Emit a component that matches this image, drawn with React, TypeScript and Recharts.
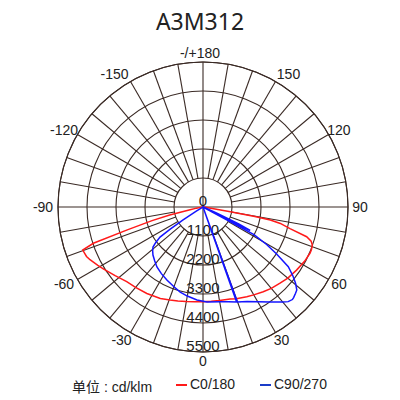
import React from 'react';
import { RadarChart, Radar, PolarGrid, PolarAngleAxis, PolarRadiusAxis } from 'recharts';

// C0/180 plane, gamma angle (deg) and intensity (cd/klm)
const c0Angles = [-180, -150, -120, -90, -85, -80, -78, -76.5, -75, -73.2, -71.7, -70.3, -67, -65, -61, -58, -52, -45.6, -40, -33, -25, -19.5, -15, -10, -5, 0, 5, 10, 16.4, 20, 26, 30, 35.4, 40, 45.3, 50, 56, 62, 66.6, 68.5, 70.8, 72.5, 74, 76, 78, 79, 79.5, 80, 81, 85, 90, 120, 150, 180];
const c0Values = [0, 0, 0, 0, 60, 250, 500, 1300, 2000, 3000, 4380, 4846, 4800, 4730, 4560, 4440, 4230, 4050, 3980, 3910, 3830, 3745, 3690, 3640, 3610, 3590, 3590, 3600, 3637, 3700, 3785, 3850, 3944, 4030, 4110, 4200, 4280, 4370, 4420, 4420, 4390, 4300, 4090, 3400, 3000, 2600, 2000, 1000, 300, 100, 0, 0, 0, 0];

// C90/270 plane
const c90Angles = [-180, -150, -120, -90, -70, -60, -58, -57, -56, -55, -53, -51.3, -49, -46.2, -42, -37.5, -32, -26.3, -20, -15, -10, -3.7, 2.4, 10, 15, 19.5, 19.7, 19.9, 25, 30, 35, 40, 42, 44, 45, 47, 48.5, 50.5, 52.5, 55, 57.5, 59.5, 61.5, 62, 63.5, 64.5, 66, 70, 80, 90, 120, 150, 180];
const c90Values = [0, 0, 0, 0, 0, 60, 300, 900, 1500, 1990, 2250, 2430, 2530, 2630, 2740, 2870, 2980, 3090, 3220, 3340, 3430, 3535, 3605, 3650, 3720, 3820, 0, 3830, 3960, 4150, 4400, 4700, 4830, 4880, 4860, 4800, 4750, 4550, 4300, 3950, 3300, 2800, 2200, 0, 2000, 1500, 600, 100, 0, 0, 0, 0, 0];

const angleTicks = [-150, -120, -90, -60, -30, 0, 30, 60, 90, 120, 150, 180];
const radiusTicks = [0, 1100, 2200, 3300, 4400, 5500];
const gridGammas = [-170, -160, -150, -140, -130, -120, -110, -100, -80, -70, -60, -50, -40, -30, -20, -10, 10, 20, 30, 40, 50, 60, 70, 80, 100, 110, 120, 130, 140, 150, 160, 170];

const c0Data = c0Angles.map((a, i) => ({ angle: a, value: c0Values[i] }));
const c90Data = c90Angles.map((a, i) => ({ angle: a, value: c90Values[i] }));

const CX = 203;
const CY = 207;
const R = 145;
const MAX = 5500;
const GRID = '#3a2a25';
const FONT = '"Liberation Sans", Arial, sans-serif';

const chartProps = {
  width: 400,
  height: 400,
  cx: CX,
  cy: CY,
  outerRadius: R,
  startAngle: -270,
  endAngle: 90,
  margin: { top: 0, right: 0, bottom: 0, left: 0 },
};

const layer: React.CSSProperties = { position: 'absolute', left: 0, top: 0 };

const AngleTick = (props: any) => {
  const { payload } = props;
  const v = payload.value;
  const a = (payload.coordinate * Math.PI) / 180;
  const side = v < 0 ? -1 : 1;
  const extra = Math.abs(v) === 150 ? 7 : 0;
  let x = CX + 157 * Math.cos(a) + (v < 0 ? -3 : 0) + side * extra;
  const y = CY - 154 * Math.sin(a);
  if (v === 180) x -= 3;
  const label = v === 180 ? '-/+180' : String(v);
  return (
    <text x={x} y={y} textAnchor="middle" dominantBaseline="central" fontSize={14} fill="#222" fontFamily={FONT}>
      {label}
    </text>
  );
};

const RadiusTick = (props: any) => {
  const { x, y, payload } = props;
  return (
    <text x={x} y={y - 7} textAnchor="middle" dominantBaseline="central" fontSize={15} fill="#222" fontFamily={FONT}>
      {payload.value}
    </text>
  );
};

export default function App() {
  const circles = radiusTicks.filter((t) => t > 0).map((t) => (t / MAX) * R);
  return (
    <div style={{ position: 'fixed', left: 0, top: 0, width: 400, height: 400, background: '#fff', fontFamily: FONT }}>
      <div style={{ position: 'absolute', left: 0, top: 5, width: 400, textAlign: 'center', fontSize: 23, color: '#222', fontFamily: '"Noto Sans", sans-serif' }}>
        A3M312
      </div>

      {/* radial lines every 10 deg, starting from the first ring */}
      <div style={layer}>
        <RadarChart {...chartProps} innerRadius={29} data={c0Data}>
          <PolarGrid gridType="circle" polarAngles={gridGammas.map((g) => g - 90)} polarRadius={[R]} stroke={GRID} strokeWidth={1.1} strokeOpacity={1} />
          <PolarAngleAxis dataKey="angle" type="number" domain={[-180, 180]} tick={false} axisLine={false} tickLine={false} />
          <PolarRadiusAxis type="number" domain={[0, MAX]} tick={false} axisLine={false} />
        </RadarChart>
      </div>

      {/* rings, cross, labels, C0/180 */}
      <div style={layer}>
        <RadarChart {...chartProps} innerRadius={0} data={c0Data}>
          <PolarGrid gridType="circle" polarAngles={[0, 90, 180, 270]} polarRadius={circles} stroke={GRID} strokeWidth={1.1} strokeOpacity={1} />
          <PolarAngleAxis dataKey="angle" type="number" domain={[-180, 180]} ticks={angleTicks} tick={<AngleTick />} axisLine={false} tickLine={false} />
          <PolarRadiusAxis type="number" angle={-90} domain={[0, MAX]} ticks={radiusTicks} tick={<RadiusTick />} axisLine={false} tickLine={false} />
          <Radar dataKey="value" stroke="#ff1a1a" strokeWidth={1.5} fill="none" fillOpacity={0} dot={false} isAnimationActive={false} />
        </RadarChart>
      </div>

      {/* C90/270 */}
      <div style={layer}>
        <RadarChart {...chartProps} innerRadius={0} data={c90Data}>
          <PolarAngleAxis dataKey="angle" type="number" domain={[-180, 180]} tick={false} axisLine={false} tickLine={false} />
          <PolarRadiusAxis type="number" domain={[0, MAX]} tick={false} axisLine={false} />
          <Radar dataKey="value" stroke="#1414ff" strokeWidth={1.5} fill="none" fillOpacity={0} dot={false} isAnimationActive={false} />
        </RadarChart>
      </div>

      <div style={{ position: 'absolute', left: 72, top: 376, fontSize: 14, color: '#222', whiteSpace: 'nowrap' }}>
        <span style={{ fontFamily: '"Noto Sans CJK SC", sans-serif' }}>单位</span> : cd/klm
      </div>
      <div style={{ position: 'absolute', left: 176, top: 384, width: 11, height: 1.5, background: '#ff1a1a' }} />
      <div style={{ position: 'absolute', left: 190, top: 376, fontSize: 14, color: '#222' }}>C0/180</div>
      <div style={{ position: 'absolute', left: 260, top: 384, width: 11, height: 1.5, background: '#1a3cc8' }} />
      <div style={{ position: 'absolute', left: 274, top: 376, fontSize: 14, color: '#222' }}>C90/270</div>
    </div>
  );
}
